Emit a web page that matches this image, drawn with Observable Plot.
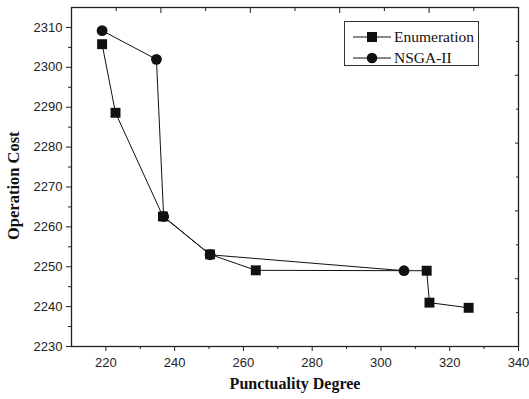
<!DOCTYPE html>
<html>
<head>
<meta charset="utf-8">
<script src="https://cdn.jsdelivr.net/npm/d3@7"></script>
<script src="https://cdn.jsdelivr.net/npm/@observablehq/plot@0.6"></script>
<style>
  html, body { margin: 0; padding: 0; background: #fff; }
  #wrap { position: relative; width: 529px; height: 399px; }
  #legend {
    position: absolute; left: 344px; top: 21px; width: 135px; height: 45px;
    border: 1px solid #333; box-sizing: border-box; background: #fff;
  }
  .row { position: absolute; left: 0; height: 20px; display: flex; align-items: center; }
  .row svg { display: block; }
  .row span { margin-left: 3px; line-height: 20px; font-family: "Liberation Serif", "Times New Roman", serif; font-size: 15.5px; color: #111; }
</style>
</head>
<body>
<div id="wrap">
  <div id="chart"></div>
  <div id="legend">
    <div class="row" style="top:5px"><svg width="46" height="20"><line x1="8" x2="46" y1="10" y2="10" stroke="#111" stroke-width="1"/><rect x="22" y="5" width="10" height="10" fill="#111"/></svg><span>Enumeration</span></div>
    <div class="row" style="top:26px"><svg width="46" height="20"><line x1="8" x2="46" y1="10" y2="10" stroke="#111" stroke-width="1"/><circle cx="27" cy="10" r="5.3" fill="#111"/></svg><span>NSGA-II</span></div>
  </div>
</div>
<script>
// Data
const enumX = [218.9, 222.8, 236.6, 250.3, 263.6, 313.3, 314.1, 325.5];
const enumY = [2305.8, 2288.6, 2262.6, 2253.1, 2249.1, 2249.0, 2241.0, 2239.7];
const nsgaX = [218.9, 234.7, 236.8, 250.3, 306.7];
const nsgaY = [2309.2, 2302.0, 2262.6, 2253.0, 2249.0];

const xTicks = [220, 240, 260, 280, 300, 320, 340];
const xMinor = [230, 250, 270, 290, 310, 330];
const yTicks = [2230, 2240, 2250, 2260, 2270, 2280, 2290, 2300, 2310];
const yMinor = [2235, 2245, 2255, 2265, 2275, 2285, 2295, 2305];
const topTicks = d3.range(0, 11).map(i => 210 + 13 * i);
const rightTicks = d3.range(0, 11).map(i => 2230 + 8.5 * i);

const enumeration = enumX.map((x, i) => ({x, y: enumY[i]}));
const nsga = nsgaX.map((x, i) => ({x, y: nsgaY[i]}));

const sans = "'Liberation Sans', Arial, sans-serif";
const serif = "'Liberation Serif', 'Times New Roman', serif";

const chart = Plot.plot({
  width: 529,
  height: 399,
  marginLeft: 71,
  marginRight: 11,
  marginTop: 7,
  marginBottom: 53,
  style: {background: "#fff", color: "#222"},
  x: {domain: [210, 340]},
  y: {domain: [2230, 2315]},
  marks: [
    Plot.frame({stroke: "#222", strokeWidth: 1.3}),
    Plot.axisX({ticks: xTicks, tickSize: 5, tickPadding: 6, fontSize: 13, fontFamily: sans, label: null, stroke: "#222", fill: "#222", tickFormat: d => String(d)}),
    Plot.axisX({ticks: xMinor, tickSize: 3, text: null, label: null, stroke: "#222"}),
    Plot.axisX({anchor: "top", ticks: topTicks.filter((d, i) => i % 2 === 0), tickSize: -5, text: null, label: null, stroke: "#222"}),
    Plot.axisX({anchor: "top", ticks: topTicks.filter((d, i) => i % 2 === 1), tickSize: -3, text: null, label: null, stroke: "#222"}),
    Plot.axisY({ticks: yTicks, tickSize: 5, tickPadding: 4, fontSize: 13, fontFamily: sans, label: null, stroke: "#222", fill: "#222", tickFormat: d => String(d)}),
    Plot.axisY({ticks: yMinor, tickSize: 3, text: null, label: null, stroke: "#222"}),
    Plot.axisY({anchor: "right", ticks: rightTicks.filter((d, i) => i % 2 === 0), tickSize: -4, text: null, label: null, stroke: "#222"}),
    Plot.axisY({anchor: "right", ticks: rightTicks.filter((d, i) => i % 2 === 1), tickSize: -3, text: null, label: null, stroke: "#222"}),
    Plot.line(enumeration, {x: "x", y: "y", stroke: "#111", strokeWidth: 1}),
    Plot.line(nsga, {x: "x", y: "y", stroke: "#111", strokeWidth: 1}),
    Plot.dot(enumeration, {x: "x", y: "y", symbol: "square", r: 5.6, fill: "#111", stroke: "none"}),
    Plot.dot(nsga, {x: "x", y: "y", symbol: "circle", r: 5.4, fill: "#111", stroke: "none"}),
    Plot.text(["Punctuality Degree"], {frameAnchor: "bottom", dy: 42, text: d => d, fontFamily: serif, fontWeight: "bold", fontSize: 16, fill: "#111"}),
    Plot.text(["Operation Cost"], {frameAnchor: "left", dx: -58, dy: 63, rotate: -90, text: d => d, fontFamily: serif, fontWeight: "bold", fontSize: 16.5, fill: "#111"})
  ]
});
document.getElementById("chart").appendChild(chart);
</script>
</body>
</html>
